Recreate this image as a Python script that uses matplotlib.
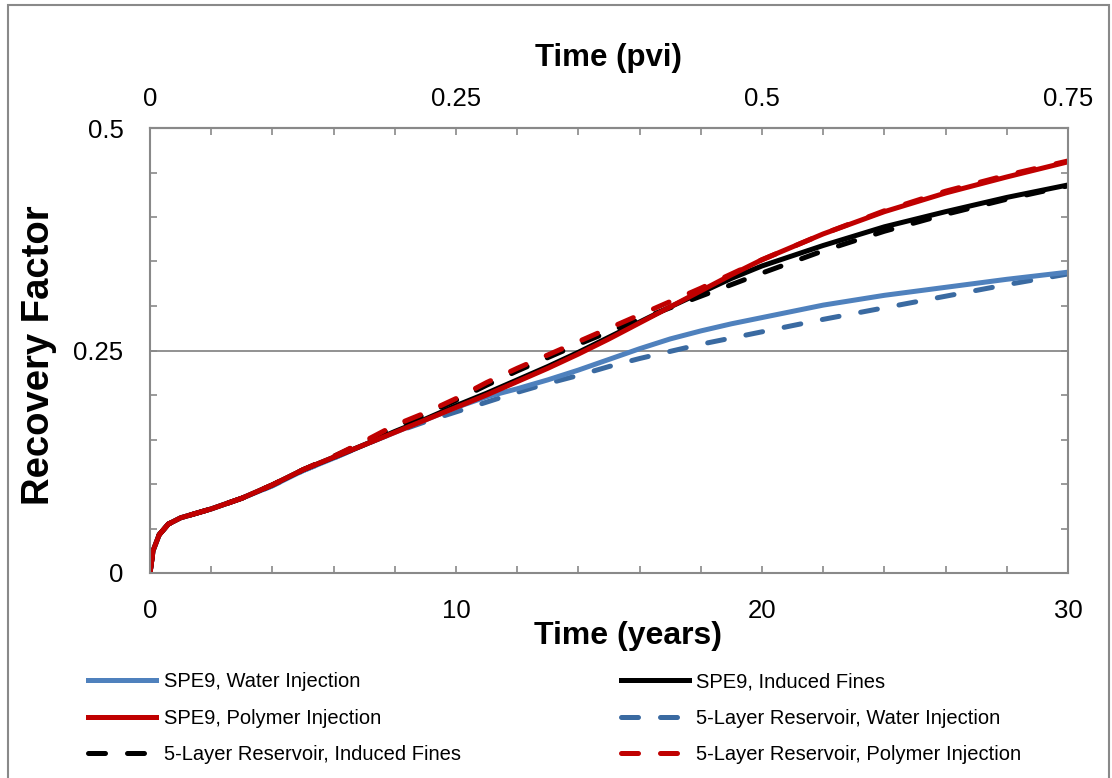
import numpy as np
import matplotlib
matplotlib.use("Agg")
import matplotlib.pyplot as plt
from matplotlib.ticker import MultipleLocator, FixedLocator, FormatStrFormatter
from matplotlib.patches import Rectangle

plt.rcParams['font.family'] = ['Liberation Sans', 'DejaVu Sans']

# time in years
t_spe9 = [0, 0.1, 0.3, 0.6, 1, 2, 3, 4, 5, 6, 7, 8, 9, 10, 11, 12, 13, 14, 15,
          16, 17, 18, 19, 20, 22, 24, 26, 28, 30]

spe9_water = [0, 0.025, 0.043, 0.055, 0.062, 0.072, 0.084, 0.098, 0.115, 0.129,
              0.144, 0.158, 0.172, 0.186, 0.198, 0.207, 0.217, 0.228, 0.240,
              0.252, 0.263, 0.272, 0.280, 0.287, 0.301, 0.312, 0.321, 0.330, 0.338]
spe9_fines = [0, 0.025, 0.043, 0.055, 0.062, 0.072, 0.084, 0.099, 0.116, 0.130,
              0.144, 0.159, 0.173, 0.188, 0.202, 0.217, 0.232, 0.248, 0.265,
              0.282, 0.299, 0.315, 0.331, 0.345, 0.368, 0.389, 0.406, 0.422, 0.436]
spe9_polymer = [0, 0.025, 0.043, 0.055, 0.062, 0.072, 0.084, 0.099, 0.116, 0.130,
                0.144, 0.158, 0.172, 0.186, 0.200, 0.215, 0.230, 0.246, 0.263,
                0.281, 0.299, 0.317, 0.335, 0.352, 0.381, 0.406, 0.427, 0.445, 0.462]

t_layer = [0, 0.1, 0.3, 0.6, 1, 2, 3, 4, 5, 6, 7, 8, 9, 10, 11, 12, 13, 14, 15,
           16, 17, 18, 19, 20, 22, 24, 26, 28, 30]
layer_water = [0, 0.025, 0.043, 0.055, 0.062, 0.072, 0.084, 0.098, 0.115, 0.129,
               0.144, 0.158, 0.170, 0.181, 0.192, 0.203, 0.213, 0.222, 0.232,
               0.241, 0.249, 0.257, 0.264, 0.271, 0.285, 0.298, 0.311, 0.324, 0.336]
layer_fines = [0, 0.025, 0.043, 0.055, 0.062, 0.072, 0.084, 0.099, 0.116, 0.131,
               0.147, 0.164, 0.178, 0.194, 0.211, 0.227, 0.242, 0.257, 0.271,
               0.285, 0.298, 0.311, 0.324, 0.337, 0.362, 0.384, 0.403, 0.420, 0.435]
layer_polymer = [0, 0.025, 0.043, 0.055, 0.062, 0.072, 0.084, 0.099, 0.116, 0.131,
                 0.148, 0.166, 0.180, 0.196, 0.214, 0.230, 0.245, 0.260, 0.275,
                 0.290, 0.305, 0.320, 0.336, 0.352, 0.381, 0.407, 0.429, 0.447, 0.463]

labels = ["SPE9, Water Injection", "SPE9, Induced Fines", "SPE9, Polymer Injection",
          "5-Layer Reservoir, Water Injection", "5-Layer Reservoir, Induced Fines",
          "5-Layer Reservoir, Polymer Injection"]

W, H = 1112, 778
fig = plt.figure(figsize=(W / 100, H / 100), dpi=100)
ax = fig.add_axes([150 / W, 1 - 573 / H, 918 / W, 445 / H])

blue = '#4F81BD'
dblue = '#3A6AA1'
red = '#C00000'
lw = 3.6
dash = dict(linestyle=(0, (3.4, 4.4)), dash_capstyle='round')

l_lw, = ax.plot(t_layer, layer_water, color=dblue, lw=lw, label=labels[3], **dash)
l_sw, = ax.plot(t_spe9, spe9_water, color=blue, lw=lw, label=labels[0])
l_sf, = ax.plot(t_spe9, spe9_fines, color='black', lw=lw, label=labels[1])
l_lf, = ax.plot(t_layer, layer_fines, color='black', lw=lw, label=labels[4], **dash)
l_sp, = ax.plot(t_spe9, spe9_polymer, color=red, lw=lw, label=labels[2])
l_lp, = ax.plot(t_layer, layer_polymer, color=red, lw=lw, label=labels[5], **dash)

ax.set_xlim(0, 30)
ax.set_ylim(0, 0.5)

gray = '#898989'
for s in ax.spines.values():
    s.set_color(gray)
    s.set_linewidth(1.5)

ax.xaxis.set_major_locator(MultipleLocator(10))
ax.xaxis.set_minor_locator(MultipleLocator(2))
ax.yaxis.set_major_locator(MultipleLocator(0.25))
ax.yaxis.set_minor_locator(MultipleLocator(0.05))
ax.yaxis.set_major_formatter(FormatStrFormatter('%g'))
ax.yaxis.grid(True, which='major', color=gray, lw=1.3)
ax.set_axisbelow(True)

ax.tick_params(which='both', direction='in', color=gray, width=1.2, length=5,
               right=True, labelsize=18.5)
ax.tick_params(axis='x', pad=19)
ax.tick_params(axis='y', pad=19)

top = ax.secondary_xaxis('top', functions=(lambda x: x / 40, lambda x: x * 40))
top.xaxis.set_major_locator(FixedLocator([0, 0.25, 0.5, 0.75]))
top.xaxis.set_minor_locator(MultipleLocator(0.05))
top.xaxis.set_major_formatter(FormatStrFormatter('%g'))
top.tick_params(which='both', direction='in', color=gray, width=1.2, length=5,
                labelsize=18.5, pad=12)
top.spines['top'].set_color(gray)
top.spines['top'].set_linewidth(1.5)

fig.text(608 / W, 1 - 58 / H, "Time (pvi)", fontsize=22.5, fontweight='bold',
         ha='center', va='center')
fig.text(628 / W, 1 - 636 / H, "Time (years)", fontsize=23, fontweight='bold',
         ha='center', va='center')
fig.text(39 / W, 1 - 355 / H, "Recovery Factor", fontsize=27.5, fontweight='bold',
         rotation=90, ha='center', va='center')

handles = [l_sw, l_sp, l_lf, l_sf, l_lw, l_lp]
fig.legend(handles=handles, labels=[h.get_label() for h in handles], ncol=2,
           loc='upper left', bbox_to_anchor=(88 / W, 1 - 672 / H), frameon=False,
           fontsize=14.5, handlelength=3.4, handletextpad=0.35, columnspacing=7.95,
           labelspacing=0.88, borderpad=0, borderaxespad=0)

fig.patches.append(Rectangle((8 / W, -0.02), (1109 - 8) / W, (778 - 5) / H + 0.02,
                             transform=fig.transFigure, fill=False, ec=gray, lw=1.5))

fig.savefig("out.png", dpi=100)
